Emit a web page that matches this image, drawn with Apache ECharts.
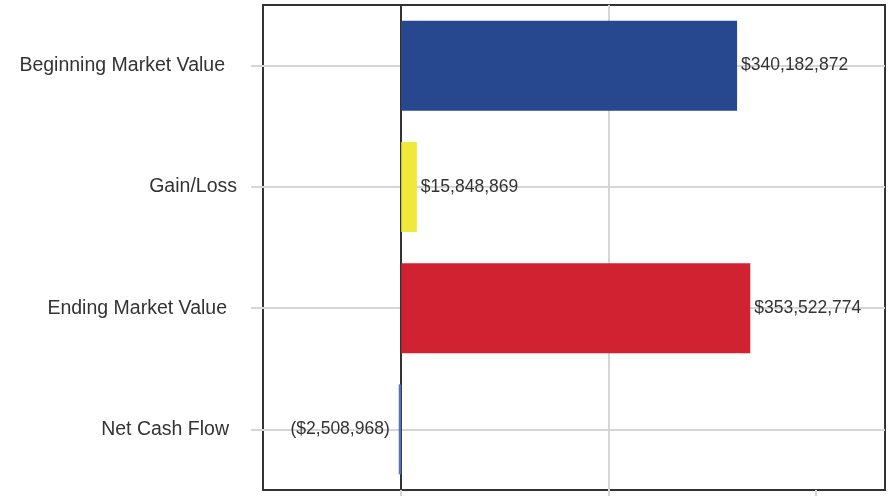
<!DOCTYPE html>
<html>
<head>
<meta charset="utf-8">
<script src="https://cdn.jsdelivr.net/npm/echarts@6/dist/echarts.min.js"></script>
<style>
html,body{margin:0;padding:0;background:#fff;}
#chart{width:892px;height:496px;}
</style>
</head>
<body>
<div id="chart"></div>
<script>
const categories = ['Beginning Market Value', 'Gain/Loss', 'Ending Market Value', 'Net Cash Flow'];
const values = [340182872, 15848869, 353522774, -2508968];
const barColors = ['#27478e', '#f0e83a', '#d12231', '#5470c6'];
const axisMin = -140000000;
const axisMax = 490000000;
const gridStep = 210000000;
const gridTicks = [0, gridStep, 2 * gridStep];

const FONT = '"Liberation Sans", Arial, sans-serif';
// right-side padding of each category label (style only)
const labelPads = [12, 0, 10, 8];

function fmt(v) {
  const s = '$' + Math.abs(v).toLocaleString('en-US');
  return v < 0 ? '(' + s + ')' : s;
}

const rich = {};
labelPads.forEach((p, i) => {
  rich['c' + i] = {color: '#333', fontFamily: FONT, fontSize: 19.5, padding: [0, p, 0, 0]};
});

const chart = echarts.init(document.getElementById('chart'), null, {renderer: 'canvas'});
chart.setOption({
  animation: false,
  backgroundColor: '#fff',
  grid: {
    left: 263, right: 7, top: 5, bottom: 6,
    show: true, borderColor: '#333', borderWidth: 2, backgroundColor: 'transparent',
    containLabel: false,
    outerBoundsMode: 'none'
  },
  xAxis: {
    type: 'value',
    min: axisMin, max: axisMax,
    splitNumber: 3,
    minInterval: gridStep, maxInterval: gridStep,
    axisLine: {show: false},
    axisLabel: {show: false},
    axisTick: {show: true, length: 6, customValues: gridTicks, lineStyle: {color: '#d6d6d6', width: 2}},
    splitLine: {show: true, showMinLine: false, showMaxLine: false, lineStyle: {color: '#d6d6d6', width: 2}}
  },
  yAxis: [{
    type: 'category',
    data: categories,
    inverse: true,
    axisLine: {show: false, onZero: false},
    axisTick: {show: true, alignWithLabel: true, length: 12, lineStyle: {color: '#d6d6d6', width: 2}},
    splitLine: {show: true, alignWithLabel: true, lineStyle: {color: '#d6d6d6', width: 2}},
    axisLabel: {
      margin: 26, color: '#333', fontFamily: FONT, fontSize: 19.5,
      formatter: (v, i) => '{c' + i + '|' + v + '}',
      rich: rich
    }
  }, {
    type: 'category',
    data: categories,
    inverse: true,
    position: 'left',
    axisLine: {show: true, onZero: true, onZeroAxisIndex: 0, lineStyle: {color: '#333', width: 2}},
    axisTick: {show: false},
    axisLabel: {show: false},
    splitLine: {show: false}
  }],
  series: [{
    type: 'bar',
    yAxisIndex: 0,
    barWidth: 90,
    z: 3,
    data: values.map((v, i) => ({
      value: v,
      itemStyle: {color: barColors[i]},
      label: {position: v < 0 ? 'left' : 'right', distance: v < 0 ? 9 : 4}
    })),
    label: {
      show: true,
      color: '#333',
      fontFamily: FONT,
      fontSize: 17.5,
      formatter: p => fmt(p.value)
    }
  }]
});
</script>
</body>
</html>
